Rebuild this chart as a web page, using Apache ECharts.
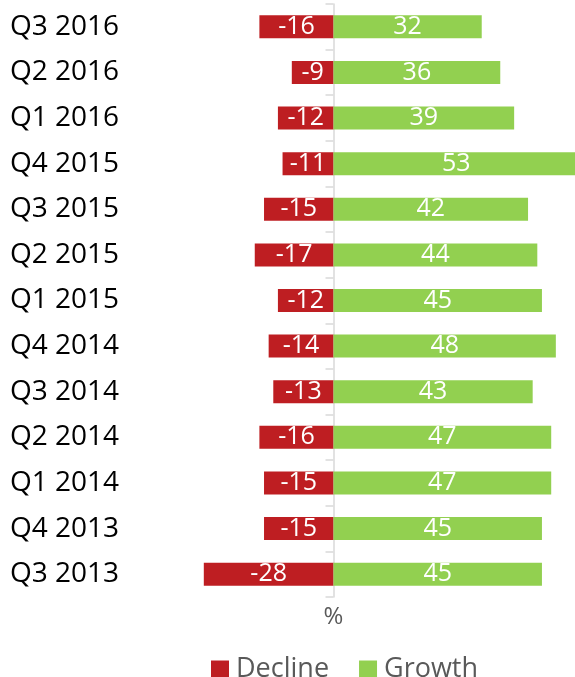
<!DOCTYPE html>
<html>
<head>
<meta charset="utf-8">
<script src="https://cdn.jsdelivr.net/npm/echarts@6/dist/echarts.min.js"></script>
<style>
  html, body { margin: 0; padding: 0; background: #fff; }
  #main { width: 575px; height: 677px; }
</style>
</head>
<body>
<div id="main"></div>
<script>
// categories bottom -> top
var quarters = ["Q3 2013", "Q4 2013", "Q1 2014", "Q2 2014", "Q3 2014", "Q4 2014", "Q1 2015",
  "Q2 2015", "Q3 2015", "Q4 2015", "Q1 2016", "Q2 2016", "Q3 2016"];
var declineValues = [-28, -15, -15, -16, -13, -14, -12, -17, -15, -11, -12, -9, -16];
var growthValues = [45, 45, 47, 47, 43, 48, 45, 44, 42, 53, 39, 36, 32];

var chartDom = document.getElementById("main");
var myChart = echarts.init(chartDom);
var font = "'Open Sans', 'Liberation Sans', sans-serif";

var option = {
  animation: false,
  textStyle: { fontFamily: font },
  grid: { left: 0, right: -4, top: 4, bottom: 80, containLabel: false, outerBoundsMode: "none" },
  legend: {
    data: ["Decline", "Growth"],
    top: 651,
    left: 206,
    icon: "rect",
    itemWidth: 18,
    itemHeight: 18,
    itemGap: 30,
    textStyle: { fontSize: 27, color: "#595959", fontFamily: font, padding: [0, 0, 0, 2] }
  },
  xAxis: {
    type: "value",
    min: -72,
    max: 53,
    show: false,
    splitLine: { show: false }
  },
  yAxis: [
    // 零线上的轴
    {
      type: "category",
      data: quarters,
      name: "%",
      nameLocation: "start",
      nameGap: 8,
      nameTextStyle: { fontSize: 24, color: "#595959", fontFamily: font, verticalAlign: "top" },
      axisLine: { onZero: true, lineStyle: { color: "#d9d9d9", width: 1.5 } },
      axisTick: { show: true, length: 8, lineStyle: { color: "#d9d9d9", width: 1.5 } },
      axisLabel: { show: false }
    },
    // 左边的标签
    {
      type: "category",
      data: quarters,
      position: "left",
      axisLine: { show: false, onZero: false },
      axisTick: { show: false },
      axisLabel: {
        align: "left",
        margin: -10,
        fontSize: 28,
        color: "#000",
        fontFamily: font
      }
    }
  ],
  series: [
    {
      name: "Decline",
      type: "bar",
      data: declineValues,
      barWidth: 23,
      barGap: "-100%",
      itemStyle: { color: "#BE1E22" },
      label: { show: true, position: "inside", color: "#fff", fontSize: 25, fontFamily: font }
    },
    {
      name: "Growth",
      type: "bar",
      data: growthValues,
      barWidth: 23,
      barGap: "-100%",
      clip: false,
      itemStyle: { color: "#92D050" },
      label: { show: true, position: "inside", color: "#fff", fontSize: 25, fontFamily: font }
    }
  ]
};
option && myChart.setOption(option);
</script>
</body>
</html>
